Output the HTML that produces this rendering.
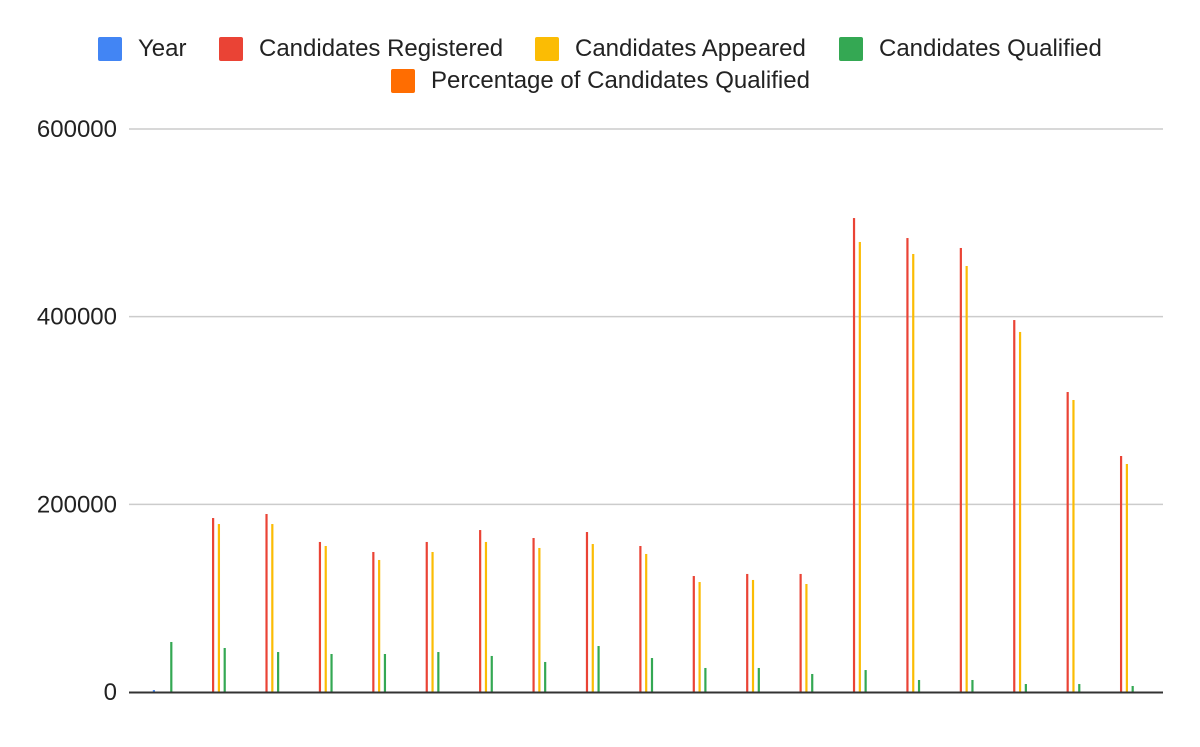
<!DOCTYPE html>
<html><head><meta charset="utf-8"><style>
body{margin:0;background:#fff;font-family:"Liberation Sans",sans-serif;}
</style></head><body>
<svg id="chart" width="1200" height="742" xmlns="http://www.w3.org/2000/svg" font-family="Liberation Sans, sans-serif">
<rect width="1200" height="742" fill="#fff"/>
<g id="legend" font-size="24" fill="#222">
 <g><rect x="98" y="37" width="24" height="24" rx="2" fill="#4285f4"/><text x="138" y="56">Year</text></g>
 <g><rect x="219" y="37" width="24" height="24" rx="2" fill="#ea4335"/><text x="259" y="56">Candidates Registered</text></g>
 <g><rect x="535" y="37" width="24" height="24" rx="2" fill="#fbbc04"/><text x="575" y="56">Candidates Appeared</text></g>
 <g><rect x="839" y="37" width="24" height="24" rx="2" fill="#34a853"/><text x="879" y="56">Candidates Qualified</text></g>
 <g><rect x="391" y="69" width="24" height="24" rx="2" fill="#ff6d01"/><text x="431" y="88">Percentage of Candidates Qualified</text></g>
</g>
<g id="grid"></g>
<g id="ylabels" font-size="24" fill="#222" text-anchor="end"></g>
<g id="bars"></g>
<line x1="129" x2="1163" y1="692.5" y2="692.5" stroke="#333" stroke-width="2"/>
</svg>
<script>
const yTicks = [0, 200000, 400000, 600000];
const year = [2000,0,0,0,0,0,0,0,0,0,0,0,0,0,0,0,0,0,0];
const registered = [0,185400,189700,159900,149200,159900,172600,164100,170500,155600,123600,125800,125800,505100,483800,473200,396400,319700,251500];
const appeared = [0,179000,179000,155600,140700,149200,159900,153500,157700,147100,117200,119400,115100,479600,466800,454000,383700,311200,243000];
const qualified = [53300,46900,42600,40500,40500,42600,38400,32000,49000,36200,25600,25600,19200,23400,12800,12800,8500,8500,6400];
const percentage = [0,0,0,0,0,0,0,0,0,0,0,0,0,0,0,0,0,0,0];
const series = [year, registered, appeared, qualified, percentage];
const colors = ["#4285f4","#ea4335","#fbbc04","#34a853","#ff6d01"];
const names = ["year","registered","appeared","qualified","percentage"];
const NS = "http://www.w3.org/2000/svg";
const y = v => 692 - v * 563 / 600000;
const x = (i, j) => 152.8 + i * 53.41 + j * 5.8;
const grid = document.getElementById('grid'), yl = document.getElementById('ylabels'), bars = document.getElementById('bars');
yTicks.forEach(t => {
  if (t > 0) {
    const l = document.createElementNS(NS,'line');
    
    
    l.setAttribute('x1',129); l.setAttribute('x2',1163);
    l.setAttribute('y1',y(t)); l.setAttribute('y2',y(t));
    l.setAttribute('stroke','#ccc'); l.setAttribute('stroke-width','1.5');
    grid.appendChild(l);
  }
  const tx = document.createElementNS(NS,'text');
  
  
  tx.setAttribute('x',117); tx.setAttribute('y',y(t)+8);
  tx.textContent = t;
  yl.appendChild(tx);
});
series.forEach((s, j) => {
  s.forEach((v, i) => {
    if (v <= 0) return;
    const r = document.createElementNS(NS,'rect');
    
    
    r.setAttribute('x', x(i,j)); r.setAttribute('width', 2.2);
    r.setAttribute('y', y(v)); r.setAttribute('height', Math.max(692 - y(v), 1.5));
    r.setAttribute('fill', colors[j]);
    bars.appendChild(r);
  });
});
</script>
</body></html>
